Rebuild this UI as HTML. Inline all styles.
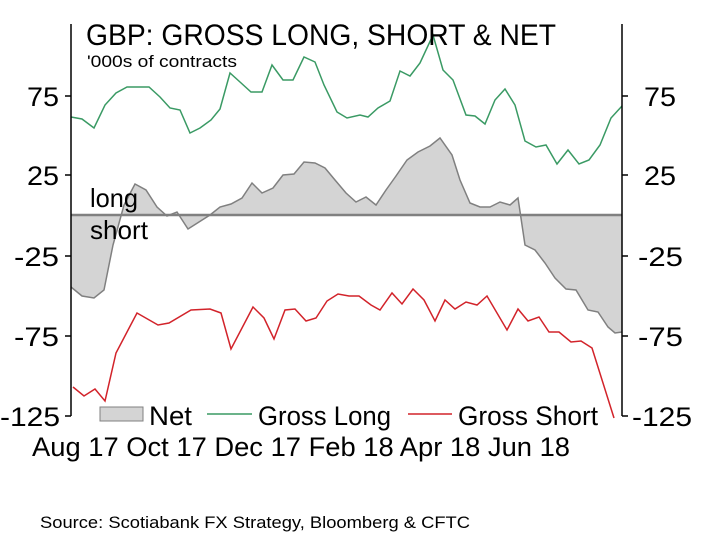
<!DOCTYPE html>
<html><head><style>body{margin:0;background:#fff}svg{display:block}text{font-family:"Liberation Sans",Arial,sans-serif;fill:#000}</style></head>
<body>
<svg width="712" height="546" viewBox="0 0 712 546" xmlns="http://www.w3.org/2000/svg">
<rect width="712" height="546" fill="#fff"/>
<polygon fill="#d4d4d4" stroke="none" points="71,215 71,287 82,296 94,298 104,290 113,245 124,205 135,184 146,190 157,207 167,216 177,212 188,229 199,222 210,215 220,207 231,204 242,198 252,183 262,193 273,188 283,175 294,174 304,162 315,163 325,168 335,180 346,193 356,202 366,197 376,205 386,190 396,176 407,160 418,152 430,146 440,138 452,155 460,180 470,203 480,207 490,207 500,202 510,205 518,198 525,245 535,250 545,263 555,278 566,289 576,290 588,310 598,312 608,327 615,333 622,332 622,215"/>
<polyline fill="none" stroke="#808080" stroke-width="1.5" points="71,287 82,296 94,298 104,290 113,245 124,205 135,184 146,190 157,207 167,216 177,212 188,229 199,222 210,215 220,207 231,204 242,198 252,183 262,193 273,188 283,175 294,174 304,162 315,163 325,168 335,180 346,193 356,202 366,197 376,205 386,190 396,176 407,160 418,152 430,146 440,138 452,155 460,180 470,203 480,207 490,207 500,202 510,205 518,198 525,245 535,250 545,263 555,278 566,289 576,290 588,310 598,312 608,327 615,333 622,332"/>
<line x1="71" y1="215" x2="622" y2="215" stroke="#808080" stroke-width="2.5"/>
<polyline fill="none" stroke="#3a9a64" stroke-width="1.5" points="71,117 82,119 94,128 105,105 116,93 127,87 138,87 149,87 160,97 170,108 180,110 190,133 200,128 211,120 220,109 230,73 240,82 251,92 262,92 272,65 283,80 293,80 304,57 315,62 324,85 337,112 347,118 360,115 368,117 378,108 390,101 400,71 410,76 420,63 433,35 443,70 453,80 466,115 475,116 485,124 495,100 505,89 515,105 525,141 536,147 546,145 557,164 568,150 579,164 589,160 600,145 611,118 622,106"/>
<polyline fill="none" stroke="#d2232a" stroke-width="1.5" points="73,387 84,396 95,389 105,401 116,353 137,313 158,325 169,323 191,310 210,309 221,313 231,349 253,307 264,318 274,339 285,310 295,309 306,321 316,318 327,301 338,294 349,296 359,296 371,305 380,310 392,293 402,304 413,289 424,300 435,321 445,300 455,309 466,302 477,305 487,296 507,330 518,309 528,321 539,317 549,332 559,332 571,342 581,341 592,348 614,418"/>
<line x1="71" y1="24" x2="71" y2="416" stroke="#000" stroke-width="1.5"/>
<line x1="622" y1="24" x2="622" y2="416" stroke="#000" stroke-width="1.5"/>
<g stroke="#000" stroke-width="1.5">
<line x1="65" y1="96" x2="71" y2="96"/><line x1="65" y1="175" x2="71" y2="175"/><line x1="65" y1="256" x2="71" y2="256"/><line x1="65" y1="336" x2="71" y2="336"/><line x1="65" y1="416" x2="71" y2="416"/>
<line x1="622" y1="96" x2="628" y2="96"/><line x1="622" y1="175" x2="628" y2="175"/><line x1="622" y1="256" x2="628" y2="256"/><line x1="622" y1="336" x2="628" y2="336"/><line x1="622" y1="416" x2="628" y2="416"/>
</g>
<g font-size="27" lengthAdjust="spacingAndGlyphs">
<text x="27" y="106" textLength="32" lengthAdjust="spacingAndGlyphs">75</text>
<text x="27" y="185" textLength="32" lengthAdjust="spacingAndGlyphs">25</text>
<text x="14" y="266" textLength="45" lengthAdjust="spacingAndGlyphs">-25</text>
<text x="14" y="346" textLength="45" lengthAdjust="spacingAndGlyphs">-75</text>
<text x="0" y="426" textLength="60" lengthAdjust="spacingAndGlyphs">-125</text>
<text x="644" y="106" textLength="32" lengthAdjust="spacingAndGlyphs">75</text>
<text x="644" y="185" textLength="32" lengthAdjust="spacingAndGlyphs">25</text>
<text x="638" y="266" textLength="45" lengthAdjust="spacingAndGlyphs">-25</text>
<text x="638" y="346" textLength="45" lengthAdjust="spacingAndGlyphs">-75</text>
<text x="632" y="426" textLength="60" lengthAdjust="spacingAndGlyphs">-125</text>
</g>
<text x="86" y="45" font-size="30" textLength="470" lengthAdjust="spacingAndGlyphs">GBP: GROSS LONG, SHORT &amp; NET</text>
<text x="87" y="67" font-size="17" textLength="150" lengthAdjust="spacingAndGlyphs">'000s of contracts</text>
<text x="90" y="207" font-size="26" textLength="48" lengthAdjust="spacingAndGlyphs">long</text>
<text x="90" y="239" font-size="26" textLength="58" lengthAdjust="spacingAndGlyphs">short</text>
<rect x="80" y="403" width="520" height="24" fill="#fff"/>
<rect x="100" y="407" width="43" height="14" fill="#d4d4d4" stroke="#808080" stroke-width="1"/>
<text x="149" y="425" font-size="27" textLength="43" lengthAdjust="spacingAndGlyphs">Net</text>
<line x1="207" y1="414" x2="252" y2="414" stroke="#3a9a64" stroke-width="1.5"/>
<text x="258" y="425" font-size="27" textLength="133" lengthAdjust="spacingAndGlyphs">Gross Long</text>
<line x1="408" y1="414" x2="452" y2="414" stroke="#d2232a" stroke-width="1.5"/>
<text x="458" y="425" font-size="27" textLength="140" lengthAdjust="spacingAndGlyphs">Gross Short</text>
<text x="32" y="456" font-size="27" textLength="538" lengthAdjust="spacingAndGlyphs">Aug 17  Oct 17  Dec 17  Feb 18  Apr 18  Jun 18</text>
<text x="40" y="528" font-size="17" textLength="430" lengthAdjust="spacingAndGlyphs">Source: Scotiabank FX Strategy, Bloomberg &amp; CFTC</text>
</svg>
</body></html>
